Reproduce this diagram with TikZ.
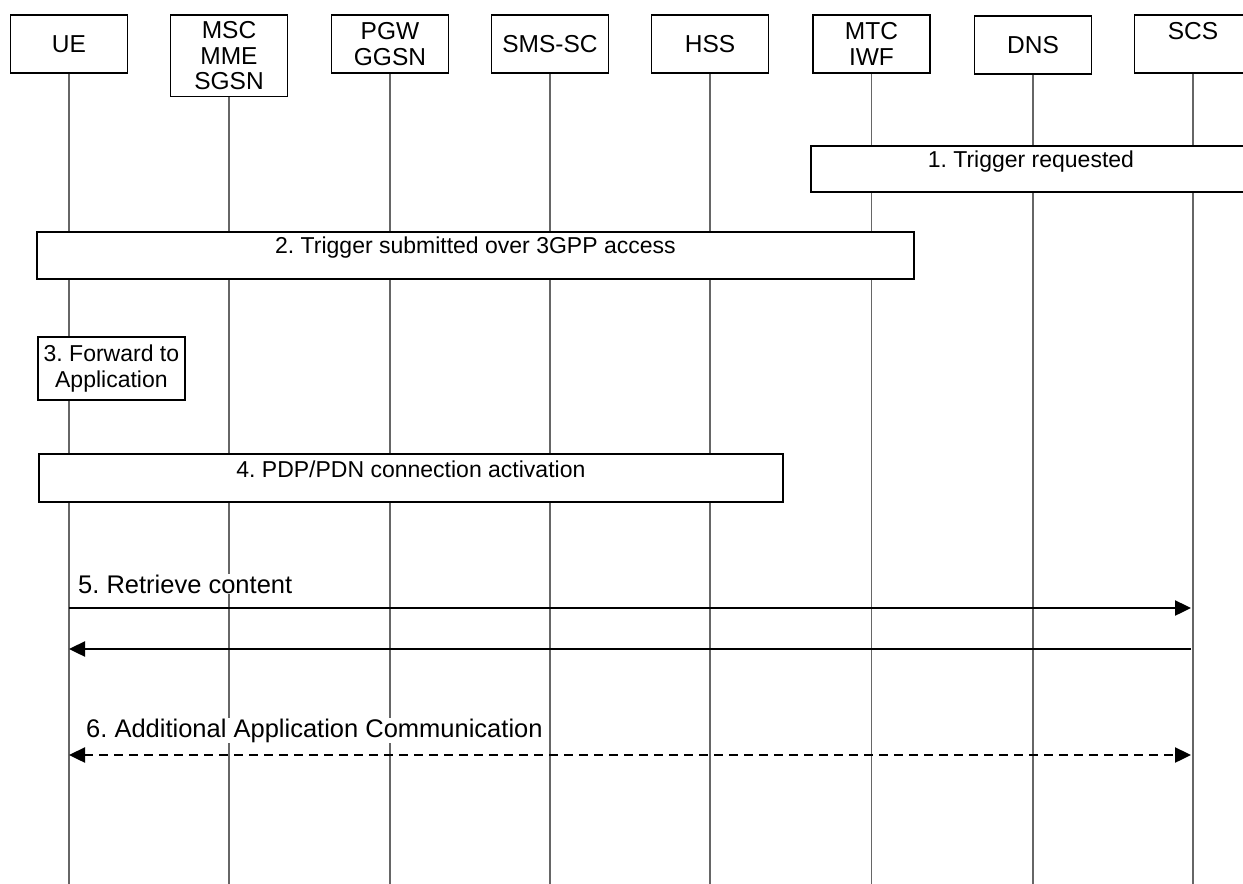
\documentclass[tikz,border=0pt]{standalone}
\usepackage{fontspec}
\setmainfont{Liberation Sans}
\usetikzlibrary{arrows.meta}
\frenchspacing
\begin{document}
\begin{tikzpicture}[x=1pt,y=-1pt,
  hdr/.style={draw=black,line width=1.8pt,fill=white,minimum width=117pt,minimum height=58pt,inner sep=0pt,anchor=north,align=center,font=\fontsize{24.5}{25.5}\selectfont},
  life/.style={draw=black!60,line width=1.2pt},
  stepbox/.style={draw=black,line width=1.8pt,fill=white,inner sep=0pt,font=\fontsize{23}{26}\selectfont},
  msg/.style={line width=2.4pt,-{Triangle[length=16pt,width=15pt]}},
  msglbl/.style={anchor=base west,fill=white,inner xsep=0pt,inner ysep=1pt,font=\fontsize{25.5}{28}\selectfont}]
\useasboundingbox (0,0) rectangle (1243,884);
\clip (0,0) rectangle (1243,884);
% header boxes
\node[hdr] (ue)  at (69,14) {UE};
\node[hdr,minimum height=81.5pt] (msc) at (229,14) {MSC\\MME\\SGSN};
\node[hdr] (pgw) at (390,14) {PGW\\GGSN};
\node[hdr] (sms) at (550,14) {SMS-SC};
\node[hdr] (hss) at (710,14) {HSS};
\node[hdr] (mtc) at (871.5,14) {MTC\\IWF};
\node[hdr] (dns) at (1033,15) {DNS};
\node[hdr] (scs) at (1193,14) {SCS\\\mbox{}};
% lifeline ends
\coordinate (ueE)  at (69,884);
\coordinate (mscE) at (229,884);
\coordinate (pgwE) at (390,884);
\coordinate (smsE) at (550,884);
\coordinate (hssE) at (710,884);
\coordinate (mtcE) at (871.5,884);
\coordinate (dnsE) at (1033,884);
\coordinate (scsE) at (1193,884);
\foreach \n in {ue,msc,pgw,sms,hss,mtc,dns,scs}
  \draw[life] (\n.south) -- (\n E);
% step boxes
\node[stepbox,anchor=north west,minimum width=440pt,text height=22pt,text depth=24pt] (s1) at (810,145) {1. Trigger requested};
\node[stepbox,anchor=north west,minimum width=877pt,text height=22pt,text depth=25pt] (s2) at (36,231) {2. Trigger submitted over 3GPP access};
\node[stepbox,anchor=north west,minimum width=147pt,minimum height=63pt,align=center] (s3) at (37,336) {3. Forward to\\Application};
\node[stepbox,anchor=north west,minimum width=744pt,text height=24pt,text depth=24pt] (s4) at (38,453) {4. PDP/PDN connection activation};
% messages
\coordinate (ue5)  at (69,608);
\coordinate (scs5) at (1191,608);
\coordinate (ue5r)  at (69,649);
\coordinate (scs5r) at (1191,649);
\coordinate (ue6)  at (69,755);
\coordinate (scs6) at (1191,755);
\draw[msg] (ue5) -- (scs5);
\node[msglbl] (l5) at (78,593) {5. Retrieve content};
\draw[msg] (scs5r) -- (ue5r);
\draw[msg,{Triangle[length=16pt,width=15pt]}-{Triangle[length=16pt,width=15pt]},dash pattern=on 9pt off 6pt] (ue6) -- (scs6);
\node[msglbl] (l6) at (86,737) {6. Additional Application Communication};
\end{tikzpicture}
\end{document}
